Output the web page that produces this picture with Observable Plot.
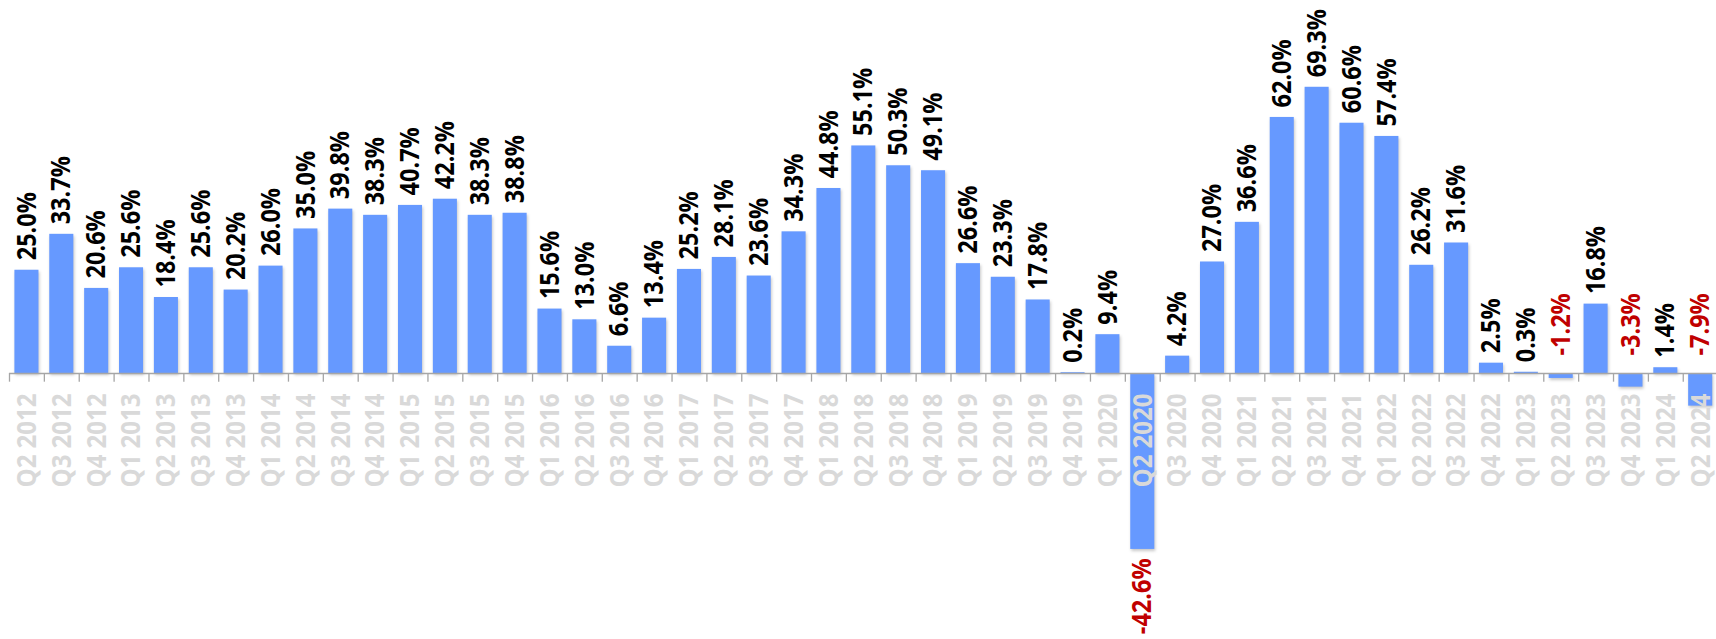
<!DOCTYPE html>
<html>
<head>
<meta charset="utf-8">
<script src="https://cdn.jsdelivr.net/npm/d3@7"></script>
<script src="https://cdn.jsdelivr.net/npm/@observablehq/plot@0.6"></script>
<style>
  html, body { margin: 0; padding: 0; background: #ffffff; overflow: hidden; }
  #chart { width: 1716px; height: 639px; }
</style>
</head>
<body>
<div id="chart"></div>
<script>
const quarters = [
  "Q2 2012","Q3 2012","Q4 2012",
  "Q1 2013","Q2 2013","Q3 2013","Q4 2013",
  "Q1 2014","Q2 2014","Q3 2014","Q4 2014",
  "Q1 2015","Q2 2015","Q3 2015","Q4 2015",
  "Q1 2016","Q2 2016","Q3 2016","Q4 2016",
  "Q1 2017","Q2 2017","Q3 2017","Q4 2017",
  "Q1 2018","Q2 2018","Q3 2018","Q4 2018",
  "Q1 2019","Q2 2019","Q3 2019","Q4 2019",
  "Q1 2020","Q2 2020","Q3 2020","Q4 2020",
  "Q1 2021","Q2 2021","Q3 2021","Q4 2021",
  "Q1 2022","Q2 2022","Q3 2022","Q4 2022",
  "Q1 2023","Q2 2023","Q3 2023","Q4 2023",
  "Q1 2024","Q2 2024"
];
const growth = [
  25.0, 33.7, 20.6,
  25.6, 18.4, 25.6, 20.2,
  26.0, 35.0, 39.8, 38.3,
  40.7, 42.2, 38.3, 38.8,
  15.6, 13.0, 6.6, 13.4,
  25.2, 28.1, 23.6, 34.3,
  44.8, 55.1, 50.3, 49.1,
  26.6, 23.3, 17.8, 0.2,
  9.4, -42.6, 4.2, 27.0,
  36.6, 62.0, 69.3, 60.6,
  57.4, 26.2, 31.6, 2.5,
  0.3, -1.2, 16.8, -3.3,
  1.4, -7.9
];

const data = quarters.map((q, i) => ({quarter: q, value: growth[i]}));
const fmt = v => v.toFixed(1) + "%";

const FONT = "'Open Sans', Lato, sans-serif";
const BLUE = "#6699ff";
const AXIS = "#a6a6a6";
const LABEL_GRAY = "#d9d9d9";
const RED = "#c00000";

const pos = data.filter(d => d.value >= 0);
const bigNeg = data.filter(d => d.value <= -10);
const smallNeg = data.filter(d => d.value < 0 && d.value > -10);

const W = 1716, H = 639;
const left = 9, step = 34.87;

const chart = Plot.plot({
  width: W,
  height: H,
  marginLeft: left,
  marginRight: 0,
  marginTop: 0,
  marginBottom: 0,
  style: {fontFamily: FONT, background: "#ffffff", overflow: "hidden"},
  x: {type: "band", domain: quarters, range: [left, left + step * quarters.length],
      paddingInner: 0.31, paddingOuter: 0.155, axis: null},
  y: {domain: [-60, 80], range: [620.8, 42.6], axis: null},
  marks: [
    Plot.barY(data, {x: "quarter", y: "value", fill: BLUE}),
    Plot.ruleY([0], {stroke: AXIS, strokeWidth: 1.3}),
    Plot.ruleX(quarters, {x: d => d, y1: 0, y2: -2.1, dx: -step / 2, stroke: AXIS, strokeWidth: 1.3}),
    Plot.text(quarters, {x: d => d, y: 0, text: d => d, rotate: -90, textAnchor: "end",
      dy: 20, fill: LABEL_GRAY, fontSize: 24, fontWeight: 700}),
    Plot.text(pos, {x: "quarter", y: "value", text: d => fmt(d.value), rotate: -90,
      textAnchor: "start", dy: -10, fill: "#000000", fontSize: 23.5, fontWeight: 700}),
    Plot.text(smallNeg, {x: "quarter", y: 0, text: d => fmt(d.value), rotate: -90,
      textAnchor: "start", dy: -18, fill: RED, fontSize: 23.5, fontWeight: 700}),
    Plot.text(bigNeg, {x: "quarter", y: "value", text: d => fmt(d.value), rotate: -90,
      textAnchor: "end", dy: 9, fill: RED, fontSize: 23.5, fontWeight: 700})
  ]
});

const barGroup = chart.querySelector('g[aria-label="bar"]');
if (barGroup) barGroup.style.filter = "drop-shadow(1px 2px 1.5px rgba(0,0,0,0.22))";

// Calibri-like proportions: make the glyphs a little taller than the font's own
chart.querySelectorAll('g[aria-label="text"] text').forEach(t => {
  const tr = t.getAttribute("transform");
  if (tr) t.setAttribute("transform", tr + " scale(1,1.15)");
});

document.getElementById("chart").appendChild(chart);
</script>
</body>
</html>
